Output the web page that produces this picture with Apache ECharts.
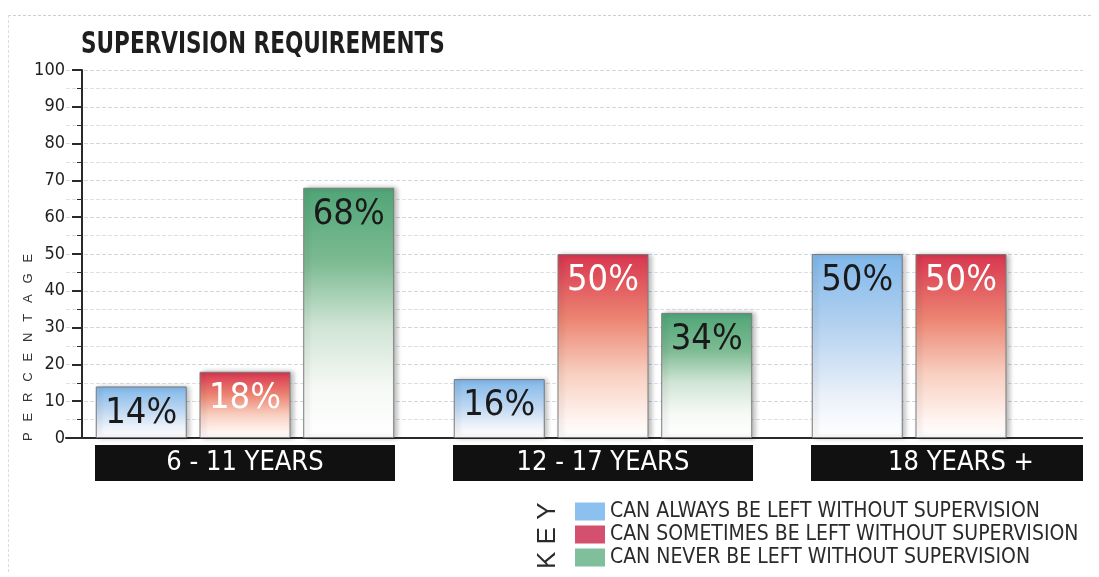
<!DOCTYPE html>
<html>
<head>
<meta charset="utf-8">
<script src="https://cdn.jsdelivr.net/npm/echarts@6/dist/echarts.min.js"></script>
<style>
  html, body { margin: 0; padding: 0; background: #fff; }
  #frame { position: absolute; left: 8px; top: 15px; width: 1082px; height: 556px;
           border-top: 1px dashed #cfcfcf; border-left: 1px dashed #dcdcdc; pointer-events: none; }
  #clip { position: absolute; left: 0; top: 0; width: 1083px; height: 577px; overflow: hidden; }
  #chart { position: absolute; left: 0; top: 0; width: 1160px; height: 620px; }
</style>
</head>
<body>
<div id="clip"><div id="chart"></div></div>
<div id="frame"></div>
<script>
// Age groups and the share of respondents in each supervision answer (%)
const categories = ['6 - 11 YEARS', '12 - 17 YEARS', '18 YEARS +'];
const alwaysLeft = [14, 16, 50];
const sometimesLeft = [18, 50, 50];
const neverLeft = [68, 34, null];

const seriesNames = [
  'CAN ALWAYS BE LEFT WITHOUT SUPERVISION',
  'CAN SOMETIMES BE LEFT WITHOUT SUPERVISION',
  'CAN NEVER BE LEFT WITHOUT SUPERVISION'
];

const NARROW = "'Liberation Sans Narrow', 'Arial Narrow', 'DejaVu Sans Condensed', sans-serif";
const SANS = "'Liberation Sans', Arial, sans-serif";

function fade(stops) {
  return new echarts.graphic.LinearGradient(0, 0, 0, 1,
    stops.map(s => ({ offset: s[0], color: s[1] })));
}

const blueFill = fade([[0, '#7fb7ea'], [0.45, '#bcd6f1'], [0.8, '#eef3fa'], [1, '#ffffff']]);
const redFill = fade([[0, '#d8354f'], [0.35, '#ec8472'], [0.65, '#f8cfc0'], [0.9, '#fff4f0'], [1, '#ffffff']]);
const greenFill = fade([[0, '#4fa577'], [0.3, '#7dbb93'], [0.55, '#cfe4d4'], [0.8, '#f6f9f6'], [1, '#ffffff']]);

function barSeries(name, data, fill, labelColor) {
  return {
    name: name,
    type: 'bar',
    data: data,
    barWidth: 91,
    barGap: '14%',
    itemStyle: {
      color: fill,
      borderColor: '#7a7a7a',
      borderWidth: 1,
      shadowColor: 'rgba(0,0,0,0.28)',
      shadowBlur: 5,
      shadowOffsetX: 3,
      shadowOffsetY: 0
    },
    label: {
      show: true,
      position: 'insideTop',
      distance: 9,
      fontFamily: NARROW,
      fontSize: 36,
      color: labelColor,
      formatter: p => (p.value == null ? '' : p.value + '%')
    },
    emphasis: { disabled: true }
  };
}

const chart = echarts.init(document.getElementById('chart'), null, { renderer: 'canvas' });

chart.setOption({
  animation: false,
  backgroundColor: 'transparent',
  grid: { left: 66, top: 70, height: 368, width: 1074 },
  xAxis: {
    type: 'category',
    data: categories,
    axisLine: { show: true, lineStyle: { color: '#2a2a2a', width: 2 } },
    axisTick: { show: false },
    axisLabel: {
      interval: 0,
      margin: 7,
      color: '#ffffff',
      fontFamily: NARROW,
      fontSize: 27,
      backgroundColor: '#111111',
      width: 300,
      height: 36,
      lineHeight: 36,
      align: 'center',
      verticalAlign: 'top'
    }
  },
  yAxis: {
    type: 'value',
    min: 0,
    max: 100,
    interval: 10,
    offset: -16,
    axisLine: { show: true, lineStyle: { color: '#2a2a2a', width: 2 } },
    axisTick: { show: true, length: 10, lineStyle: { color: '#2a2a2a', width: 2 } },
    minorTick: { show: true, splitNumber: 2, length: 5, lineStyle: { color: '#2a2a2a', width: 1 } },
    axisLabel: { margin: 17, color: '#1e1e1e', fontFamily: NARROW, fontSize: 18 },
    splitLine: { show: true, lineStyle: { color: '#cfd7e1', width: 1, type: 'dashed' } },
    minorSplitLine: { show: true, lineStyle: { color: '#d9e0e8', width: 1, type: 'dashed' } }
  },
  legend: {
    orient: 'vertical',
    left: 575,
    top: 501,
    padding: 0,
    itemWidth: 30,
    itemHeight: 18,
    itemGap: 2,
    icon: 'rect',
    selectedMode: false,
    itemStyle: { borderWidth: 0, shadowBlur: 0, shadowOffsetX: 0 },
    textStyle: { fontFamily: NARROW, fontSize: 21, color: '#2a2a2a' },
    data: [
      { name: seriesNames[0], itemStyle: { color: '#8cc0ee' } },
      { name: seriesNames[1], itemStyle: { color: '#d4506f' } },
      { name: seriesNames[2], itemStyle: { color: '#7fbf9b' } }
    ]
  },
  graphic: [
    {
      type: 'text',
      x: 81,
      y: 45,
      scaleX: 0.8,
      style: {
        text: 'SUPERVISION REQUIREMENTS',
        fontFamily: NARROW,
        fontSize: 30,
        fontWeight: 'bold',
        fill: '#1e1e1e',
        align: 'left',
        verticalAlign: 'middle'
      }
    },
    {
      type: 'text',
      x: 28,
      y: 441,
      rotation: Math.PI / 2,
      style: {
        text: 'P   E   R   C   E   N   T   A   G   E',
        fontFamily: SANS,
        fontSize: 13,
        fill: '#333',
        align: 'left',
        verticalAlign: 'middle'
      }
    },
    {
      type: 'text',
      x: 548,
      y: 569,
      rotation: Math.PI / 2,
      style: {
        text: 'K E Y',
        fontFamily: SANS,
        fontSize: 26,
        fill: '#2a2a2a',
        align: 'left',
        verticalAlign: 'middle'
      }
    }
  ],
  series: [
    barSeries(seriesNames[0], alwaysLeft, blueFill, '#1a1a1a'),
    barSeries(seriesNames[1], sometimesLeft, redFill, '#ffffff'),
    barSeries(seriesNames[2], neverLeft, greenFill, '#1a1a1a')
  ]
});
</script>
</body>
</html>
